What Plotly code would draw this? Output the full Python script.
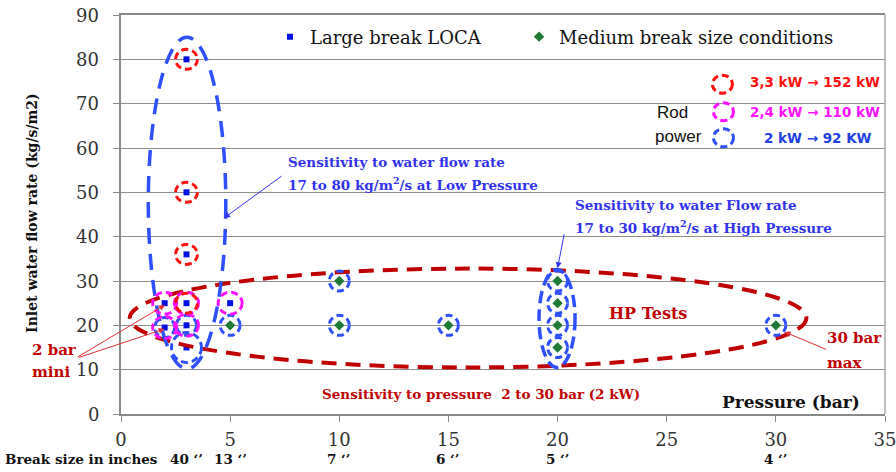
import plotly.graph_objects as go

# ---------------- data ----------------
large_p = [3, 3, 3, 3, 3, 3, 2, 2, 5]
large_q = [80, 50, 36, 25, 20, 15, 25, 19.5, 25]
medium_p = [5, 10, 10, 15, 20, 20, 20, 20, 30]
medium_q = [20, 30, 20, 20, 30, 25, 20, 15, 20]

# rod-power rings around test points
red_p = [3, 3, 3, 3]
red_q = [80, 50, 36, 25]
mag_p = [2, 2, 3, 3, 5]
mag_q = [25, 19.5, 25, 20, 25]
blue_p = [2, 3, 3, 5, 10, 10, 15, 20, 20, 20, 20, 30]
blue_q = [19.5, 20, 15, 20, 30, 20, 20, 30, 25, 20, 15, 20]

break_p = [3, 5, 10, 15, 20, 30]
break_lbl = ["40 \u2018\u2019", "13 \u2018\u2019", "7 \u2018\u2019", "6 \u2018\u2019", "5 \u2018\u2019", "4 \u2018\u2019"]

x_ticks = [0, 5, 10, 15, 20, 25, 30, 35]
y_ticks = [0, 10, 20, 30, 40, 50, 60, 70, 80, 90]

RED = "#FF1010"
MAG = "#FF10FF"
BLUE = "#3050FF"
DRED = "#C00000"
TBLUE = "#3333EE"
SERIF = "DejaVu Serif"

fig = go.Figure()
fig.add_trace(go.Scatter(x=large_p, y=large_q, mode="markers", name="Large break LOCA",
                         marker=dict(symbol="square", size=6, color="#0010E0"), legend="legend"))
fig.add_trace(go.Scatter(x=medium_p, y=medium_q, mode="markers", name="Medium break size conditions",
                         marker=dict(symbol="diamond", size=8, color="#1E7A34"), legend="legend2"))

shapes = []


def ring(x, y, color, rx=11, ry=10, w=3, dash="7px,4px"):
    return dict(type="circle", xref="x", yref="y", xsizemode="pixel", ysizemode="pixel",
                xanchor=x, yanchor=y, x0=-rx, x1=rx, y0=-ry, y1=ry,
                line=dict(color=color, width=w, dash=dash), layer="above")


# big ellipses
shapes.append(dict(type="circle", xref="x", yref="y", x0=0.4, x1=31.4, y0=10.5, y1=32.8,
                   line=dict(color=DRED, width=4, dash="15px,9px")))
shapes.append(dict(type="circle", xref="x", yref="y", x0=1.25, x1=4.8, y0=10.2, y1=85,
                   line=dict(color=BLUE, width=3.5, dash="16px,10px")))
shapes.append(dict(type="circle", xref="x", yref="y", x0=19.15, x1=20.8, y0=10.5, y1=32.6,
                   line=dict(color=BLUE, width=3.5, dash="12px,6px")))

for x, y in zip(blue_p, blue_q):
    big = (x == 3 and y == 15)
    shapes.append(ring(x, y, BLUE, rx=15 if big else 10, ry=15 if big else 10))
for x, y in zip(mag_p, mag_q):
    shapes.append(ring(x, y, MAG, rx=12, ry=11))
for x, y in zip(red_p, red_q):
    shapes.append(ring(x, y, RED, rx=11, ry=10))

# key rings
shapes.append(ring(27.55, 74.4, RED, rx=10, ry=9))
shapes.append(ring(27.6, 68.2, MAG, rx=10, ry=9))
shapes.append(ring(27.6, 62.3, BLUE, rx=10, ry=9))

ann = []


def txt(x, y, s, color, size, family=SERIF, xanchor="left", bold=True, xref="x", yref="y", angle=0):
    ann.append(dict(x=x, y=y, xref=xref, yref=yref, text=("<b>%s</b>" % s) if bold else s,
                    showarrow=False, xanchor=xanchor, yanchor="middle", textangle=angle,
                    font=dict(color=color, size=size, family=family)))


def arrow(x, y, ax, ay, color):
    ann.append(dict(x=x, y=y, xref="x", yref="y", ax=ax, ay=ay, text=" ", showarrow=True,
                    arrowhead=2, arrowsize=1.2, arrowwidth=1, arrowcolor=color,
                    font=dict(size=1)))


# y tick labels and axis title
for v in y_ticks:
    txt(-0.026, v, str(v), "#333333", 18, xanchor="right", bold=False, xref="paper")
txt(-0.1165, 0.504, "Inlet water flow rate (kg/s/m2)", "#111111", 14, xanchor="center",
    xref="paper", yref="paper", angle=-90)

txt(7.56, 56.8, "Sensitivity to water flow rate", TBLUE, 13.5)
txt(7.56, 51.9, "17 to 80 kg/m<sup>2</sup>/s at Low Pressure", TBLUE, 13.5)
txt(20.7, 47.1, "Sensitivity to water Flow rate", TBLUE, 13.5)
txt(20.7, 42.2, "17 to 30 kg/m<sup>2</sup>/s at High Pressure", TBLUE, 13.5)
arrow(4.72, 44.2, 59, -43, TBLUE)
arrow(20.0, 32.9, 7, -36, TBLUE)

txt(22.26, 22.6, "HP Tests", DRED, 16)
txt(-0.119, 14.4, "2 bar", DRED, 15, xref="paper")
txt(-0.119, 9.5, "mini", DRED, 15, xref="paper")
arrow(2.02, 24.6, -89, 53, "#E03030")
arrow(2.0, 19.2, -87, 29, "#E03030")
txt(32.25, 17.1, "30 bar", DRED, 15)
txt(32.25, 11.6, "max", DRED, 15)
arrow(30.4, 18.5, 43, 18, "#E03030")
txt(16.49, 4.5, "Sensitivity to pressure&nbsp;&nbsp;2 to 30 bar (2 kW)", DRED, 13.5, xanchor="center")
txt(30.69, 2.7, "Pressure (bar)", "#111111", 17, xanchor="center")

txt(24.46, 67.9, "Rod", "#111111", 17, family="Liberation Sans", bold=False)
txt(24.37, 62.5, "power", "#111111", 17, family="Liberation Sans", bold=False)
txt(28.72, 74.9, "3,3 kW \u2192 152 kW", RED, 13.5, family="DejaVu Sans")
txt(28.72, 68.1, "2,4 kW \u2192 110 kW", MAG, 13.5, family="DejaVu Sans")
txt(29.36, 62.3, "2 kW \u2192 92 KW", "#2040E0", 13.5, family="DejaVu Sans")

txt(1.79, -0.113, "Break size in inches", "#111111", 13.5, xanchor="right", yref="paper")
for p, lbl in zip(break_p, break_lbl):
    txt(p, -0.113, lbl, "#111111", 13.5, xanchor="center", yref="paper")

leg_common = dict(orientation="h", y=0.945, xanchor="left", yanchor="middle",
                  font=dict(family=SERIF, size=18, color="#111111"), bgcolor="rgba(0,0,0,0)")

fig.update_layout(
    width=896, height=472,
    margin=dict(l=121, r=11, t=15, b=58, autoexpand=False),
    paper_bgcolor="white", plot_bgcolor="white",
    showlegend=True,
    legend=dict(x=0.195, **leg_common),
    legend2=dict(x=0.521, **leg_common),
    xaxis=dict(range=[0, 35], tickvals=x_ticks, showgrid=False, zeroline=False, automargin=False,
               showline=True, linecolor="#8a8a8a", linewidth=1.5, mirror=True,
               ticks="outside", ticklen=6, tickcolor="#8a8a8a", ticklabelstandoff=3,
               ticklabeloverflow="allow",
               tickfont=dict(family=SERIF, size=18, color="#333333")),
    yaxis=dict(range=[0, 90], tickvals=y_ticks, showgrid=True, gridcolor="#8f8f8f", gridwidth=1.3,
               zeroline=False, showline=True, linecolor="#8a8a8a", linewidth=1.5, automargin=False,
               ticks="outside", ticklen=6, tickcolor="#8a8a8a", showticklabels=False),
    shapes=shapes,
    annotations=ann,
)
# right frame line
fig.add_shape(type="line", xref="paper", yref="paper", x0=1, x1=1, y0=0, y1=1,
              line=dict(color="#a8a8a8", width=1.5))

fig.write_html("out.html", config={"displayModeBar": False},
               post_script="document.body.style.margin='0px';")
